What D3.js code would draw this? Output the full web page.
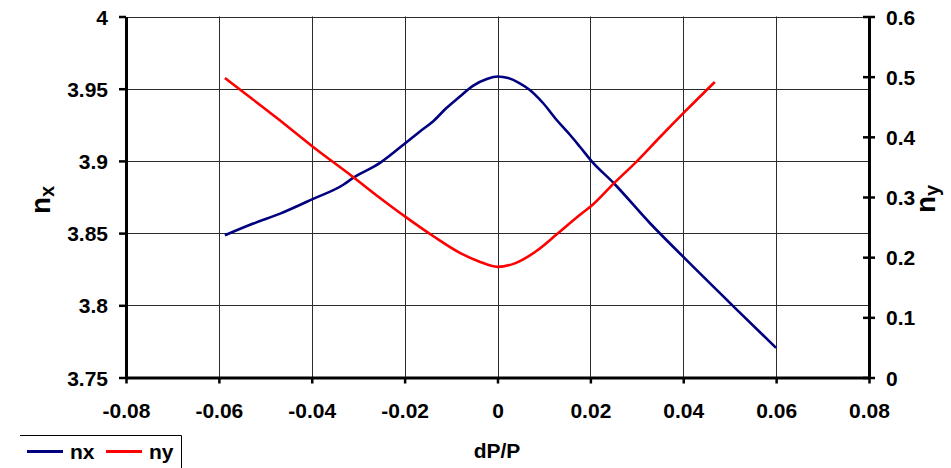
<!DOCTYPE html>
<html>
<head>
<meta charset="utf-8">
<script src="https://cdn.jsdelivr.net/npm/d3@7/dist/d3.min.js"></script>
<style>
  html, body { margin: 0; padding: 0; background: #fff; }
  svg { display: block; font-family: "Liberation Sans", Arial, sans-serif; font-weight: bold; }
</style>
</head>
<body>
<svg id="chart" width="951" height="468"></svg>
<script>
// Horizontal tune nx versus momentum deviation dP/P
const nxDp  = [-0.0587, -0.0526, -0.0468, -0.0397, -0.0332, -0.0311, -0.0253, -0.0198, -0.0167, -0.0139, -0.0110, -0.0081, -0.0053, -0.0023, 0.0, 0.0023, 0.0047, 0.0069, 0.0098, 0.0127, 0.0156, 0.0177, 0.0203, 0.0250, 0.0328, 0.0404, 0.0508, 0.0600];
const nxVal = [3.8485, 3.8566, 3.8635, 3.8737, 3.8835, 3.8882, 3.8986, 3.9124, 3.9204, 3.9273, 3.9366, 3.9446, 3.9520, 3.9567, 3.9585, 3.9574, 3.9539, 3.9493, 3.9401, 3.9285, 3.9181, 3.9100, 3.8997, 3.8847, 3.8570, 3.8323, 3.7993, 3.7705];

// Vertical tune ny versus dP/P
const nyDp  = [-0.0587, -0.0540, -0.0475, -0.0397, -0.0311, -0.0253, -0.0198, -0.0138, -0.0081, -0.0041, 0.0, 0.0036, 0.0083, 0.0127, 0.0177, 0.0203, 0.0250, 0.0300, 0.0350, 0.0404, 0.0468];
const nyVal = [0.4977, 0.4700, 0.4313, 0.3831, 0.3333, 0.2984, 0.2669, 0.2347, 0.2071, 0.1932, 0.1839, 0.1893, 0.2098, 0.2375, 0.2700, 0.2857, 0.3222, 0.3592, 0.3997, 0.4422, 0.4911];

// Tick values
const xTicks  = [-0.08, -0.06, -0.04, -0.02, 0, 0.02, 0.04, 0.06, 0.08];
const yLTicks = [3.75, 3.8, 3.85, 3.9, 3.95, 4];
const yRTicks = [0, 0.1, 0.2, 0.3, 0.4, 0.5, 0.6];

const seriesNames  = ["nx", "ny"];
const seriesColors = ["#000080", "#ff0000"];

const plotLeft = 126, plotRight = 869, plotTop = 16.5, plotBottom = 377.5;

const svg = d3.select("#chart");

const x  = d3.scaleLinear().domain([-0.08, 0.08]).range([plotLeft, plotRight]);
const yL = d3.scaleLinear().domain([3.75, 4]).range([plotBottom, plotTop]);
const yR = d3.scaleLinear().domain([0, 0.6]).range([plotBottom, plotTop]);

const fmt = d => d === 0 ? "0" : String(+d.toFixed(2));
const fmtX = d => d === 0 ? "0" : d.toFixed(2);

// grid
const grid = svg.append("g").attr("stroke", "#2b2b2b").attr("stroke-width", 1);
grid.selectAll("line.v").data(xTicks.slice(1, -1)).join("line")
  .attr("x1", d => Math.round(x(d)) + 0.5).attr("x2", d => Math.round(x(d)) + 0.5)
  .attr("y1", plotTop).attr("y2", plotBottom);
grid.selectAll("line.h").data(yLTicks.slice(1)).join("line")
  .attr("x1", plotLeft).attr("x2", plotRight)
  .attr("y1", d => Math.round(yL(d)) + 0.5).attr("y2", d => Math.round(yL(d)) + 0.5);

// series
const line = d3.line().x(d => x(d[0])).y(d => d[1]).curve(d3.curveMonotoneX);
svg.append("path")
  .datum(nxDp.map((d, i) => [d, yL(nxVal[i])]))
  .attr("fill", "none").attr("stroke", seriesColors[0]).attr("stroke-width", 2.6)
  .attr("stroke-linejoin", "round").attr("d", line);
svg.append("path")
  .datum(nyDp.map((d, i) => [d, yR(nyVal[i])]))
  .attr("fill", "none").attr("stroke", seriesColors[1]).attr("stroke-width", 2.6)
  .attr("stroke-linejoin", "round").attr("d", line);

// axes
const fontSize = 21;
const styleAxis = g => {
  g.select(".domain").attr("stroke", "#000").attr("stroke-width", 3);
  g.selectAll(".tick line").attr("stroke", "#000").attr("stroke-width", 2.5);
  g.selectAll(".tick text").attr("fill", "#000").attr("font-size", fontSize)
    .attr("font-family", "'Liberation Sans', Arial, sans-serif").attr("font-weight", "bold");
};

svg.append("g").attr("transform", `translate(${plotLeft},0)`)
  .call(d3.axisLeft(yL).tickValues(yLTicks).tickFormat(fmt).tickSize(7).tickSizeOuter(0).tickPadding(11))
  .call(styleAxis)
  .call(g => g.selectAll(".tick text").attr("dy", "0.36em"));

svg.append("g").attr("transform", `translate(0,${plotBottom})`)
  .call(d3.axisBottom(x).tickValues(xTicks).tickFormat(fmtX).tickSize(6).tickSizeOuter(0).tickPadding(20))
  .call(styleAxis);

svg.append("g").attr("transform", `translate(${plotRight},0)`)
  .call(d3.axisRight(yR).tickValues(yRTicks).tickFormat(fmt).tickSize(6).tickSizeOuter(0).tickPadding(11))
  .call(styleAxis)
  .call(g => g.selectAll(".tick text").attr("dy", "0.36em"))
  .call(g => g.selectAll(".tick line").attr("x1", -6));

// axis titles
const titleL = svg.append("text").attr("transform", "translate(50,214) rotate(-90)")
  .attr("font-size", 28).attr("fill", "#000");
titleL.append("tspan").text("n");
titleL.append("tspan").attr("dy", 4).attr("font-size", 20).text("x");

const titleR = svg.append("text").attr("transform", "translate(935,213) rotate(-90)")
  .attr("font-size", 28).attr("fill", "#000");
titleR.append("tspan").text("n");
titleR.append("tspan").attr("dy", 3.5).attr("font-size", 20).text("y");

svg.append("text").attr("x", 497).attr("y", 458).attr("text-anchor", "middle")
  .attr("font-size", 21).attr("fill", "#000").text("dP/P");

// legend
const legend = svg.append("g");
legend.append("path").attr("d", "M20,435.5 H181.5 V468")
  .attr("fill", "none").attr("stroke", "#000").attr("stroke-width", 1);
const items = legend.selectAll("g.item").data(seriesNames).join("g")
  .attr("transform", (d, i) => `translate(${27 + i * 79},0)`);
items.append("line").attr("x1", 0).attr("x2", 36).attr("y1", 451.5).attr("y2", 451.5)
  .attr("stroke", (d, i) => seriesColors[i]).attr("stroke-width", 3);
items.append("text").attr("x", 43).attr("y", 459).attr("font-size", 21).attr("fill", "#000")
  .text(d => d);
</script>
</body>
</html>
